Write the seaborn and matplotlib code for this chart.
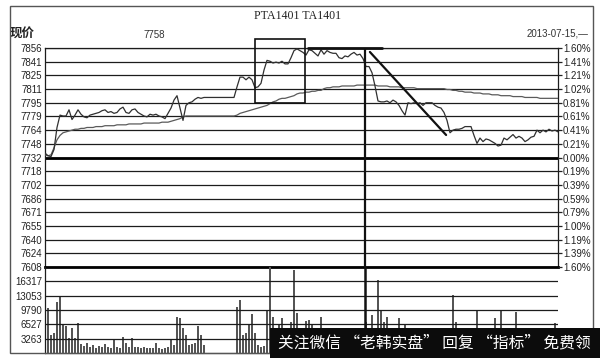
import numpy as np
import pandas as pd
import matplotlib
matplotlib.use("Agg")
import matplotlib.pyplot as plt
import matplotlib.patches as mpatches
import seaborn as sns

# ---------------- data ----------------
title = "PTA1401 TA1401"
last_price_label = "7758"
date_label = "2013-07-15,\u2014"
settle = 7732

price = [7737, 7734, 7733, 7741, 7766, 7780, 7779, 7779, 7786, 7775,
         7780, 7786, 7781, 7778, 7777, 7780, 7781, 7782, 7783, 7785,
         7786, 7783, 7784, 7782, 7783, 7787, 7789, 7783, 7782, 7786,
         7787, 7783, 7781, 7779, 7778, 7781, 7780, 7781, 7779, 7778,
         7776, 7782, 7788, 7797, 7802, 7788, 7774, 7791, 7794, 7795,
         7798, 7800, 7799, 7800, 7800, 7800, 7800, 7800, 7800, 7800,
         7800, 7800, 7800, 7800, 7812, 7823, 7823, 7820, 7823, 7820,
         7811, 7812, 7816, 7831, 7842, 7841, 7839, 7840, 7839, 7841,
         7838, 7838, 7845, 7853, 7855, 7853, 7851, 7848, 7854, 7853,
         7850, 7847, 7854, 7849, 7853, 7851, 7850, 7850, 7845, 7844,
         7847, 7846, 7849, 7851, 7848, 7849, 7844, 7835, 7835, 7828,
         7813, 7796, 7795, 7795, 7796, 7794, 7797, 7795, 7791, 7785,
         7780, 7794, 7793, 7794, 7793, 7794, 7791, 7794, 7794, 7794,
         7791, 7789, 7788, 7783, 7774, 7760, 7763, 7764, 7764, 7765,
         7767, 7767, 7767, 7757, 7748, 7754, 7750, 7753, 7752, 7750,
         7748, 7745, 7746, 7754, 7752, 7755, 7758, 7754, 7756, 7754,
         7750, 7752, 7755, 7756, 7763, 7760, 7763, 7761, 7764, 7762,
         7763, 7761]

avg_price = [7735, 7734, 7735, 7743, 7752, 7757, 7760, 7761, 7762, 7763,
             7764, 7764, 7765, 7765, 7766, 7766, 7766, 7767, 7767, 7767,
             7768, 7768, 7768, 7768, 7769, 7769, 7769, 7769, 7770, 7770,
             7770, 7770, 7770, 7771, 7771, 7771, 7771, 7771, 7771, 7772,
             7772, 7772, 7773, 7774, 7775, 7776, 7778, 7779, 7779, 7779,
             7779, 7779, 7779, 7779, 7779, 7779, 7779, 7779, 7779, 7779,
             7779, 7779, 7779, 7779, 7780, 7782, 7783, 7784, 7785, 7786,
             7787, 7788, 7789, 7790, 7791, 7793, 7795, 7796, 7798, 7799,
             7799, 7800, 7801, 7802, 7804, 7805, 7805, 7806, 7806, 7807,
             7807, 7808, 7808, 7810, 7811, 7811, 7812, 7812, 7812, 7813,
             7813, 7813, 7813, 7813, 7814, 7814, 7814, 7814, 7814, 7814,
             7814, 7813, 7813, 7813, 7813, 7812, 7812, 7812, 7812, 7811,
             7811, 7811, 7811, 7811, 7810, 7810, 7810, 7810, 7810, 7810,
             7810, 7810, 7810, 7810, 7809, 7809, 7808, 7808, 7807, 7807,
             7806, 7806, 7806, 7805, 7805, 7805, 7804, 7804, 7804, 7803,
             7803, 7803, 7802, 7802, 7802, 7802, 7801, 7801, 7801, 7801,
             7800, 7800, 7800, 7800, 7800, 7799, 7799, 7799, 7799, 7799,
             7799, 7799]

volume = [9100, 10300, 4100, 4600, 11600, 13000, 6400, 6200, 3400, 5700,
          3400, 6800, 2000, 1600, 2300, 1400, 1800, 1100, 1600, 1400,
          2000, 1400, 1100, 3000, 1400, 1100, 3600, 2300, 1400, 3400,
          1400, 1400, 1100, 1400, 1100, 1100, 1100, 2300, 1100, 900,
          1100, 1400, 3000, 1800, 8200, 7900, 5700, 4100, 1800, 2000,
          2300, 6200, 4100, 1800, 0, 0, 0, 0, 0, 0,
          0, 0, 0, 0, 10500, 12100, 4100, 4600, 6400, 8900,
          4600, 1800, 1400, 1600, 9600, 19500, 8200, 2000, 6400, 8000,
          1500, 1200, 7000, 18900, 9100, 1500, 1200, 7300, 7500, 6400,
          1000, 1200, 8200, 1500, 1000, 1200, 900, 1100, 1300, 1000,
          1200, 900, 1100, 1000, 1300, 1200, 1100, 7100, 1200, 8700,
          1500, 16650, 9800, 7100, 8200, 1200, 1000, 1300, 8000, 1100,
          6400, 1000, 1200, 900, 1100, 1000, 1200, 1300, 1000, 1100,
          1200, 900, 1100, 1000, 1200, 1300, 13200, 7100, 1000, 1100,
          1200, 900, 1100, 1000, 9800, 1200, 1100, 1000, 1300, 1200,
          8000, 1100, 9800, 1000, 1200, 1100, 1300, 9400, 1000, 1200,
          1100, 900, 1000, 1200, 1100, 1300, 1000, 1200, 1100, 1000,
          6800, 1200]

price_tick_labels = ['7608', '7624', '7640', '7655', '7671', '7686', '7702', '7718',
                     '7732', '7748', '7764', '7779', '7795', '7811', '7825', '7841', '7856']
pct_tick_labels = ['1.60%', '1.39%', '1.19%', '1.00%', '0.79%', '0.59%', '0.39%', '0.19%',
                   '0.00%', '0.21%', '0.41%', '0.61%', '0.81%', '1.02%', '1.21%', '1.41%', '1.60%']
vol_tick_labels = ['3263', '6527', '9790', '13053', '16317']
vol_step = 3263.3

banner_text = "关注微信 “老韩实盘” 回复 “指标” 免费领"

# annotation shapes drawn by the author (data units: minute index, price)
box_idx = (70.0, 86.7)
box_price = (7794, 7866)
top_line_idx = (87.7, 112.3)
top_line_price = 7855.5
vline_idx = 106.7
diag_idx = (108.3, 133.7)
diag_price = (7851.5, 7757.5)

# ---------------- figure ----------------
sns.set_theme(style="white")
plt.rcParams['font.family'] = ['Liberation Sans', 'DejaVu Sans']

W, H = 600, 358
fig = plt.figure(figsize=(W / 100, H / 100), dpi=100)
fig.patch.set_facecolor('white')

def fx(px):
    return px / W

def fy(py):
    return 1 - py / H

L, R = 45, 558
ax = fig.add_axes([fx(L), fy(267), (R - L) / W, (267 - 48) / H])
axv = fig.add_axes([fx(L), fy(353), (R - L) / W, (353 - 267) / H])

n = len(price)
df = pd.DataFrame({'t': np.arange(n), 'price': price, 'avg': avg_price, 'vol': volume})

lo, hi = 7608, 7856
ticks = np.linspace(lo, hi, len(price_tick_labels))

grid_c = '#1c1c1c'
for t in ticks:
    ax.axhline(t, color=grid_c, lw=0.9, zorder=1)
ax.axhline(settle, color='#000000', lw=2.0, zorder=2)

sns.lineplot(data=df, x='t', y='avg', ax=ax, color='#5a5a5a', lw=0.9, zorder=3)
sns.lineplot(data=df, x='t', y='price', ax=ax, color='#303030', lw=0.9, zorder=4)

ax.set_xlim(0, n - 1)
ax.set_ylim(lo, hi)
ax.set_yticks(ticks)
ax.set_yticklabels(price_tick_labels)
ax.set_xticks([])
ax.set_xlabel('')
ax.set_ylabel('')
ax.tick_params(axis='y', length=0, pad=2, labelsize=7, colors='#222222')
for s in ['top', 'right', 'left']:
    ax.spines[s].set_visible(True)
    ax.spines[s].set_color(grid_c)
    ax.spines[s].set_linewidth(0.9)
ax.spines['bottom'].set_color('#000000')
ax.spines['bottom'].set_linewidth(2.0)
ax.patch.set_alpha(0)

axr = ax.twinx()
axr.set_ylim(lo, hi)
axr.set_yticks(ticks)
axr.set_yticklabels(pct_tick_labels)
axr.tick_params(axis='y', length=3, width=0.9, pad=0.5, labelsize=7, colors='#222222')
for s in axr.spines.values():
    s.set_visible(False)
axr.set_ylabel('')

# volume
sns.barplot(data=df, x='t', y='vol', ax=axv, native_scale=True, width=0.4,
            color='#555555', saturation=1, errorbar=None, linewidth=0, zorder=1)
axv.set_xlim(0, n - 1)
axv.set_ylim(0, vol_step * 6)
vticks = [vol_step * k for k in range(1, 6)]
for t in vticks:
    axv.axhline(t, color=grid_c, lw=0.9, zorder=2)
axv.set_yticks(vticks)
axv.set_yticklabels(vol_tick_labels)
axv.set_xticks([])
axv.set_xlabel('')
axv.set_ylabel('')
axv.tick_params(axis='y', length=0, pad=2, labelsize=7, colors='#222222')
axv.spines['top'].set_visible(False)
axv.spines['right'].set_visible(False)
axv.spines['left'].set_color(grid_c)
axv.spines['left'].set_linewidth(0.9)
axv.spines['bottom'].set_color('#666666')
axv.spines['bottom'].set_linewidth(0.9)
axv.patch.set_alpha(0)

# annotations
ann_c = '#111111'
ax.add_patch(mpatches.Rectangle((box_idx[0], box_price[0]), box_idx[1] - box_idx[0],
                                box_price[1] - box_price[0], fill=False,
                                edgecolor=ann_c, lw=1.2, clip_on=False, zorder=6))
ax.plot(top_line_idx, [top_line_price, top_line_price], color=ann_c, lw=2.0,
        clip_on=False, zorder=6)
ax.plot([vline_idx, vline_idx], [lo, hi], color=ann_c, lw=1.6, zorder=6)
axv.plot([vline_idx, vline_idx], [0, vol_step * 6], color=ann_c, lw=1.8, zorder=6)
ax.plot(diag_idx, diag_price, color=ann_c, lw=1.6, zorder=6)

# texts
fig.text(fx(298), fy(16), title, family='Liberation Serif', fontsize=8.6,
         ha='center', va='center', color='#222222')
fig.text(fx(10), fy(34), "现价", family=['Noto Sans CJK SC', 'DejaVu Sans'],
         fontsize=9, weight='bold', ha='left', va='center', color='#222222')
fig.text(fx(154), fy(35), last_price_label, fontsize=7, ha='center', va='center',
         color='#333333')
fig.text(fx(527), fy(34), date_label, fontsize=7, ha='left', va='center',
         color='#333333')

# outer frame
fig.patches.append(mpatches.Rectangle((fx(10), fy(353)), (593 - 10) / W, (353 - 6) / H,
                                      transform=fig.transFigure, fill=False,
                                      edgecolor='#555555', lw=1.0, zorder=5))
# watermark banner
fig.patches.append(mpatches.Rectangle((fx(270), 0), (W - 270) / W, (H - 328) / H,
                                      transform=fig.transFigure, facecolor='#0c0c0c',
                                      edgecolor='none', zorder=10))
fig.text(fx(278), fy(343), banner_text, family=['Noto Sans CJK SC', 'DejaVu Sans'],
         fontsize=11.3, color='white', ha='left', va='center', zorder=11)

fig.savefig('out.png', dpi=100, facecolor='white')
